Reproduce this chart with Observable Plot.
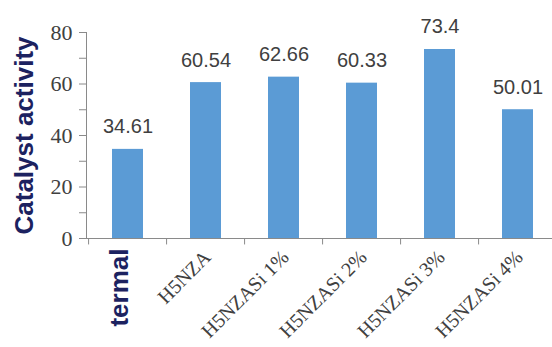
<!DOCTYPE html>
<html>
<head>
<meta charset="utf-8">
<script src="https://cdn.jsdelivr.net/npm/d3@7"></script>
<script src="https://cdn.jsdelivr.net/npm/@observablehq/plot@0.6"></script>
<style>
  html, body { margin: 0; padding: 0; background: #fff; overflow: hidden; }
</style>
</head>
<body>
<div id="chart"></div>
<script>
// Catalyst activity per sample
const categories = ["termal", "H5NZA", "H5NZASi 1%", "H5NZASi 2%", "H5NZASi 3%", "H5NZASi 4%"];
const activity = [34.61, 60.54, 62.66, 60.33, 73.4, 50.01];
const yTicks = [0, 10, 20, 30, 40, 50, 60, 70, 80];
const yLabeled = [0, 20, 40, 60, 80];

const data = categories.map((category, i) => ({category, value: activity[i]}));

const axisColor = "#8a8a8a";
const textColor = "#404040";
const titleColor = "#1c2260";
const barColor = "#5b9bd5";

const W = 552, H = 347;
const mLeft = 86, mRight = -7;
const step = (W - mLeft - mRight) / categories.length;

const chart = Plot.plot({
  width: W,
  height: H,
  marginLeft: mLeft,
  marginRight: mRight,
  marginTop: 32,
  marginBottom: 109,
  style: {background: "white", overflow: "visible"},
  x: {domain: categories, paddingInner: 0.6, paddingOuter: 0.3, axis: null},
  y: {domain: [0, 80], axis: null},
  marks: [
    Plot.barY(data, {x: "category", y: "value", fill: barColor}),
    Plot.frame({anchor: "left", stroke: axisColor}),
    Plot.ruleY([0], {stroke: axisColor}),
    Plot.axisY({
      ticks: yTicks,
      tickSize: 7,
      tickPadding: 7,
      tickFormat: d => yLabeled.includes(d) ? String(d) : "",
      label: null,
      fontSize: 22,
      fontFamily: "Liberation Serif",
      stroke: axisColor,
      fill: textColor
    }),
    // category boundary ticks below the baseline
    Plot.ruleX(categories, {x: d => d, dx: -step / 2, y1: 0, y2: -2.5, stroke: axisColor}),
    // value labels
    Plot.text(data, {
      x: "category", y: "value", text: d => String(d.value),
      dy: -16, lineAnchor: "bottom",
      fontSize: 20, fontFamily: "Liberation Sans", fill: textColor
    }),
    // category labels
    Plot.text(data.filter(d => d.category === "termal"), {
      x: "category", y: 0, text: "category",
      dy: 10, dx: -8, rotate: -90, textAnchor: "end", lineAnchor: "middle",
      fontSize: 26, fontWeight: "bold", fontFamily: "Liberation Sans", fill: titleColor
    }),
    Plot.text(data.filter(d => d.category !== "termal"), {
      x: "category", y: 0, text: "category",
      dy: 10, dx: -4, rotate: -45, textAnchor: "end", lineAnchor: "top",
      fontSize: 20, fontFamily: "Liberation Serif", fill: textColor
    }),
    // y-axis title
    Plot.text(["Catalyst activity"], {
      frameAnchor: "left", y: 40, text: d => d,
      dx: -62, rotate: -90, textAnchor: "middle", lineAnchor: "middle",
      fontSize: 26, fontWeight: "bold", fontFamily: "Liberation Sans", fill: titleColor
    })
  ]
});

document.getElementById("chart").appendChild(chart);
</script>
</body>
</html>
